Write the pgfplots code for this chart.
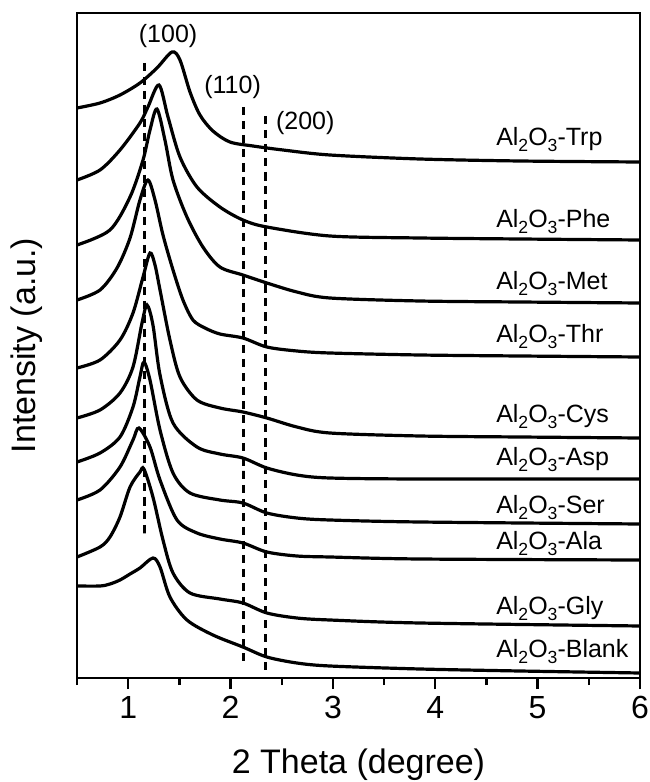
\documentclass[border=0pt]{standalone}
\usepackage{fontspec}
\setmainfont{Liberation Sans}
\usepackage{pgfplots}
\pgfplotsset{compat=1.18}

\newcommand{\lab}{\fontsize{12.5}{14}\selectfont}
\newcommand{\sub}[1]{\raisebox{-0.45ex}{\fontsize{8.8}{9}\selectfont #1}}
\newcommand{\alo}{Al\sub{2}O\sub{3}}

\begin{document}
\begin{tikzpicture}
\begin{axis}[
    scale only axis,
    width=281.5pt, height=332.5pt,
    xmin=0.5, xmax=6, ymin=0, ymax=665,
    axis line style={line width=1.15pt},
    xtick={1,2,3,4,5,6},
    minor xtick={0.5,1.5,2.5,3.5,4.5,5.5},
    ytick=\empty,
    xtick pos=bottom,
    tick align=outside,
    major tick length=5.5pt, minor tick length=3.5pt,
    tick style={black, line width=1.15pt},
    tick label style={font=\fontsize{16}{19}\selectfont},
    /pgf/number format/assume math mode=true,
    xlabel={2 Theta (degree)},
    ylabel={Intensity (a.u.)},
    label style={font=\fontsize{17}{20}\selectfont},
    xlabel style={at={(axis description cs:0.5,-0.131)}, anchor=center},
    ylabel style={at={(axis description cs:-0.089,0.5)}, anchor=center},
    cycle list={{black, solid}},
    every axis plot post/.append style={black, line width=1.6pt, no markers, smooth, tension=0.5},
]

% Trp
\addplot coordinates {(0.500,570) (0.725,575) (0.920,583) (1.115,595) (1.281,610) (1.428,626) (1.506,618) (1.604,586) (1.701,563) (1.828,547) (1.994,536) (2.219,532) (2.512,528) (2.971,523) (3.850,519) (4.826,517) (6.000,516)};
% Phe
\addplot coordinates {(0.500,498) (0.725,508) (0.920,528) (1.115,555) (1.193,571) (1.301,593) (1.389,561) (1.506,521) (1.672,491) (1.896,471) (2.121,458) (2.355,451) (2.971,442) (3.850,440) (4.826,439) (6.000,438)};
% Met
\addplot coordinates {(0.500,433) (0.822,448) (1.018,481) (1.145,518) (1.213,548) (1.281,569) (1.359,538) (1.438,498) (1.574,461) (1.730,431) (1.896,411) (2.121,403) (2.355,395) (2.648,386) (2.971,380) (3.850,377) (4.826,376) (6.000,375)};
% Thr
\addplot coordinates {(0.500,378) (0.725,388) (0.891,410) (1.018,440) (1.115,478) (1.193,498) (1.262,478) (1.340,443) (1.438,408) (1.535,378) (1.633,358) (1.750,350) (1.896,344) (2.121,340) (2.355,331) (2.648,327) (2.971,325) (3.850,323) (4.826,322) (6.000,321)};
% Cys
\addplot coordinates {(0.500,310) (0.725,318) (0.920,338) (1.047,365) (1.145,401) (1.213,425) (1.262,413) (1.311,388) (1.408,338) (1.506,301) (1.672,278) (1.896,270) (2.121,266) (2.355,260) (2.648,251) (2.971,245) (3.850,242) (4.826,241) (6.000,240)};
% Asp
\addplot coordinates {(0.500,260) (0.725,268) (0.920,285) (1.047,311) (1.135,355) (1.184,373) (1.242,353) (1.311,303) (1.438,255) (1.672,231) (1.896,224) (2.121,220) (2.355,210) (2.648,203) (2.971,200) (3.850,199) (6.000,199)};
% Ser
\addplot coordinates {(0.500,216) (0.725,225) (0.920,241) (1.047,271) (1.115,301) (1.154,316) (1.213,298) (1.311,248) (1.438,205) (1.604,185) (1.896,178) (2.121,175) (2.355,165) (2.648,160) (2.971,158) (3.850,156) (6.000,154)};
% Ala
\addplot coordinates {(0.500,178) (0.725,188) (0.920,211) (1.047,238) (1.105,250) (1.213,231) (1.311,198) (1.477,158) (1.672,145) (1.896,139) (2.121,135) (2.355,126) (2.648,122) (2.971,121) (3.850,119) (6.000,118)};
% Gly
\addplot coordinates {(0.500,121) (0.725,131) (0.822,141) (0.920,161) (1.018,191) (1.115,206) (1.154,209) (1.242,181) (1.340,138) (1.438,105) (1.604,85) (1.896,79) (2.121,75) (2.355,65) (2.648,60) (2.971,58) (3.850,55) (6.000,52)};
% Blank
\addplot coordinates {(0.500,92) (0.725,92) (0.822,94) (0.920,98) (1.018,104) (1.115,110) (1.242,120) (1.311,111) (1.408,81) (1.574,58) (1.828,43) (2.121,31) (2.355,21) (2.648,15) (2.971,12) (3.850,9) (4.826,7) (6.000,5)};

% reflection markers
\addplot+[line width=0.7pt, dash pattern=on 4pt off 3pt] coordinates {(1.16,615) (1.16,142)};
\addplot+[line width=0.7pt, dash pattern=on 4pt off 3pt] coordinates {(2.13,571) (2.13,16)};
\addplot+[line width=0.7pt, dash pattern=on 4pt off 3pt] coordinates {(2.345,562) (2.345,6)};

\node[font=\lab] at (axis cs:1.39,642) {(100)};
\node[font=\lab] at (axis cs:2.02,591) {(110)};
\node[font=\lab] at (axis cs:2.73,555) {(200)};

\tikzset{lb/.style={font=\lab, anchor=base west, inner sep=0pt}}
\node[lb] at (axis cs:4.592,532.5) {\alo-Trp};
\node[lb] at (axis cs:4.592,450.5) {\alo-Phe};
\node[lb] at (axis cs:4.592,388.5) {\alo-Met};
\node[lb] at (axis cs:4.592,335.5) {\alo-Thr};
\node[lb] at (axis cs:4.592,255.5) {\alo-Cys};
\node[lb] at (axis cs:4.592,212.5) {\alo-Asp};
\node[lb] at (axis cs:4.592,164.5) {\alo-Ser};
\node[lb] at (axis cs:4.592,128.5) {\alo-Ala};
\node[lb] at (axis cs:4.592,63.5) {\alo-Gly};
\node[lb] at (axis cs:4.592,20.5) {\alo-Blank};
\end{axis}
\pgfresetboundingbox
\path[use as bounding box] ([xshift=-38.5pt,yshift=-52pt]current axis.south west) rectangle ([xshift=5pt,yshift=6.5pt]current axis.north east);
\end{tikzpicture}
\end{document}
